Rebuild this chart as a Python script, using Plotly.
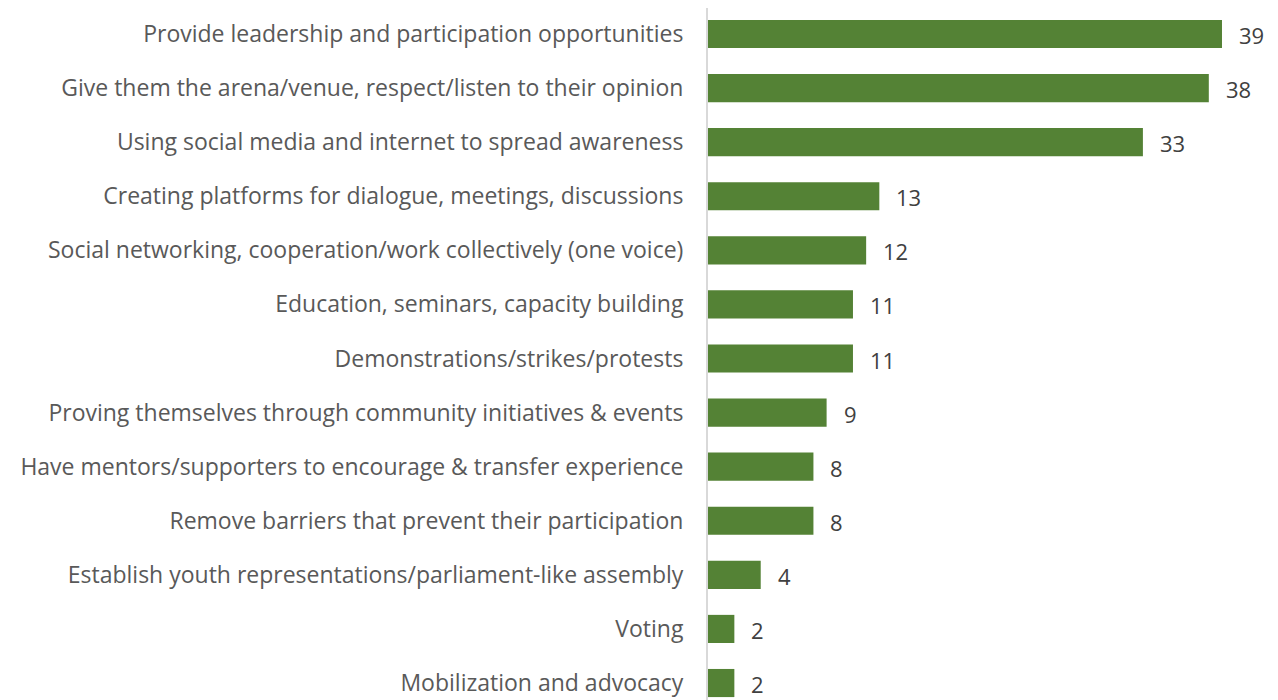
import plotly.graph_objects as go

categories = [
    "Provide leadership and participation opportunities",
    "Give them the arena/venue, respect/listen to their opinion",
    "Using social media and internet to spread awareness",
    "Creating platforms for dialogue, meetings, discussions",
    "Social networking, cooperation/work collectively (one voice)",
    "Education, seminars, capacity building",
    "Demonstrations/strikes/protests",
    "Proving themselves through community initiatives & events",
    "Have mentors/supporters to encourage & transfer experience",
    "Remove barriers that prevent their participation",
    "Establish youth representations/parliament-like assembly",
    "Voting",
    "Mobilization and advocacy",
]
values = [39, 38, 33, 13, 12, 11, 11, 9, 8, 8, 4, 2, 2]

idx = list(range(len(categories)))
FONT = "Open Sans"

fig = go.Figure()
fig.add_trace(go.Bar(
    x=values,
    y=idx,
    orientation="h",
    marker=dict(color="#548235", line=dict(width=0)),
    width=0.52,
    hoverinfo="x+y",
))

for v, i in zip(values, idx):
    fig.add_annotation(
        x=v, y=i, text=str(v), showarrow=False,
        xanchor="left", yanchor="middle", xshift=15, yshift=-1,
        font=dict(family=FONT, size=22, color="#404040"),
    )

# the page adds an 8px body margin, so the figure is sized to fit inside it
fig.update_layout(
    width=1270,
    height=692,
    margin=dict(l=700, r=0, t=0, b=0, autoexpand=False),
    paper_bgcolor="white",
    plot_bgcolor="white",
    showlegend=False,
    font=dict(family=FONT, size=23, color="#595959"),
    xaxis=dict(range=[0, 43.25], visible=False, showgrid=False, zeroline=False),
    yaxis=dict(
        range=[12.314, -0.481],
        tickvals=idx,
        ticktext=categories,
        showgrid=False,
        zeroline=False,
        showline=True,
        linecolor="#d9d9d9",
        linewidth=2,
        ticks="",
        automargin=False,
        ticklabelstandoff=18,
        tickfont=dict(size=23, color="#595959", family=FONT),
    ),
)

fig.write_html("out.html")
